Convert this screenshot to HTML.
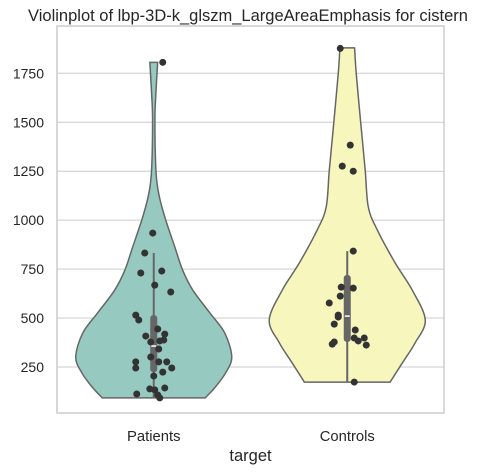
<!DOCTYPE html>
<html><head><meta charset="utf-8"><style>
body{margin:0;background:#fff}
svg{display:block;font-family:"Liberation Sans","DejaVu Sans",sans-serif}
</style></head><body>
<svg id="c" width="482" height="473"></svg>
<script>
const categories=["Patients","Controls"];
const yTicks=[250,500,750,1000,1250,1500,1750];
const patientsValues=[1806,934,832,730,740,668,633,515,490,444,418,408,378,383,388,342,301,276,245,276,276,245,224,204,138,133,143,112,107,92];
const patientsJitter=[9,-1,-9,-13,8,1,17,-18,-15,4,11,-8,-3,6,10,5,-3,-18,-18,5,13,18,9,0,-4,1,11,-17,4,6];
const controlsValues=[1877,1383,1276,1250,842,658,653,612,577,515,505,469,439,398,383,398,362,378,367,173];
const controlsJitter=[-7,3,-5,6,6,-6,6,-7,-18,-9,-9,-13,8,7,11,17,19,-13,-15,7];
const patientsDensityV=[1806,1665,1511,1241,1118,1000,863,745,643,526,424,301,219,148,92];
const patientsDensity=[0.05,0.03,0.015,0.03,0.073,0.154,0.27,0.37,0.5,0.72,0.91,1,0.92,0.79,0.66];
const controlsDensityV=[1880,1750,1496,1256,1067,950,781,643,490,373,270,173];
const controlsDensity=[0.094,0.115,0.173,0.23,0.27,0.385,0.615,0.833,1,0.87,0.705,0.55];
const patientsBox=[92,224,357,515,832];
const controlsBox=[173,378,510,720,842];

const NS="http://www.w3.org/2000/svg";
const svg=document.getElementById('c');
const L=57,R=444,T=26,B=413;
function y(v){return 367-(v-250)*0.1958;}
function xc(i){return L+(R-L)/categories.length*(i+0.5);}
const maxHW=78;
function mk(t,a,p){const e=document.createElementNS(NS,t);for(const k in a)e.setAttribute(k,a[k]);(p||svg).appendChild(e);return e;}
function smooth(pts){let d="M"+pts[0][0]+","+pts[0][1];for(let i=0;i<pts.length-1;i++){const p0=pts[Math.max(i-1,0)],p1=pts[i],p2=pts[i+1],p3=pts[Math.min(i+2,pts.length-1)];const c1=[p1[0]+(p2[0]-p0[0])/6,p1[1]+(p2[1]-p0[1])/6],c2=[p2[0]-(p3[0]-p1[0])/6,p2[1]-(p3[1]-p1[1])/6];d+=" C"+c1+" "+c2+" "+p2;}return d;}

yTicks.forEach(t=>{
 const g=mk('line',{x1:L,x2:R,y1:y(t),y2:y(t),stroke:'#cccccc','stroke-width':1});
 
 const tx=mk('text',{x:L-13,y:y(t)+5,'text-anchor':'end','font-size':14,fill:'#262626'});
 tx.textContent=t;
});
const fills=['#96cac1','#f7f7bd'];
const dv=[patientsDensityV,controlsDensityV],dd=[patientsDensity,controlsDensity];
const vals=[patientsValues,controlsValues],jit=[patientsJitter,controlsJitter],boxes=[patientsBox,controlsBox];
categories.forEach((c,i)=>{
 const cx=xc(i);
 const right=dv[i].map((v,k)=>[cx+dd[i][k]*maxHW,y(v)]);
 const left=dv[i].map((v,k)=>[cx-dd[i][k]*maxHW,y(v)]).reverse();
 const d=smooth(right)+" L"+left[0]+" "+smooth(left).slice(1).replace(/^[^C]*/,'')+" Z";
 const p=mk('path',{d:d,fill:fills[i],stroke:'#666666','stroke-width':1.5});
 
 const b=boxes[i];
 const w=mk('line',{x1:cx,x2:cx,y1:y(b[0]),y2:y(b[4]),stroke:'#666666','stroke-width':2});
 
 const bx=mk('rect',{x:cx-3.5,y:y(b[3]),width:7,height:y(b[1])-y(b[3]),rx:3,fill:'#666666'});
 
 const m=mk('line',{x1:cx-2.5,x2:cx+2.5,y1:y(b[2]),y2:y(b[2]),stroke:'#ffffff','stroke-width':1.5});
 
 vals[i].forEach((v,k)=>{
  const pt=mk('circle',{cx:cx+jit[i][k],cy:y(v),r:3.5,fill:'#333333'});
  
 });
 const lb=mk('text',{x:cx,y:441,'text-anchor':'middle','font-size':14.8,fill:'#262626'});
 lb.textContent=c;
});
const sp=mk('rect',{x:L,y:T,width:R-L,height:B-T,fill:'none',stroke:'#cccccc','stroke-width':1.5});

const ti=mk('text',{x:248,y:21,'text-anchor':'middle','font-size':16.5,fill:'#262626'});
ti.textContent='Violinplot of lbp-3D-k_glszm_LargeAreaEmphasis for cistern';

const xl=mk('text',{x:(L+R)/2,y:461,'text-anchor':'middle','font-size':16.5,fill:'#262626'});
xl.textContent='target';
</script>
</body></html>
